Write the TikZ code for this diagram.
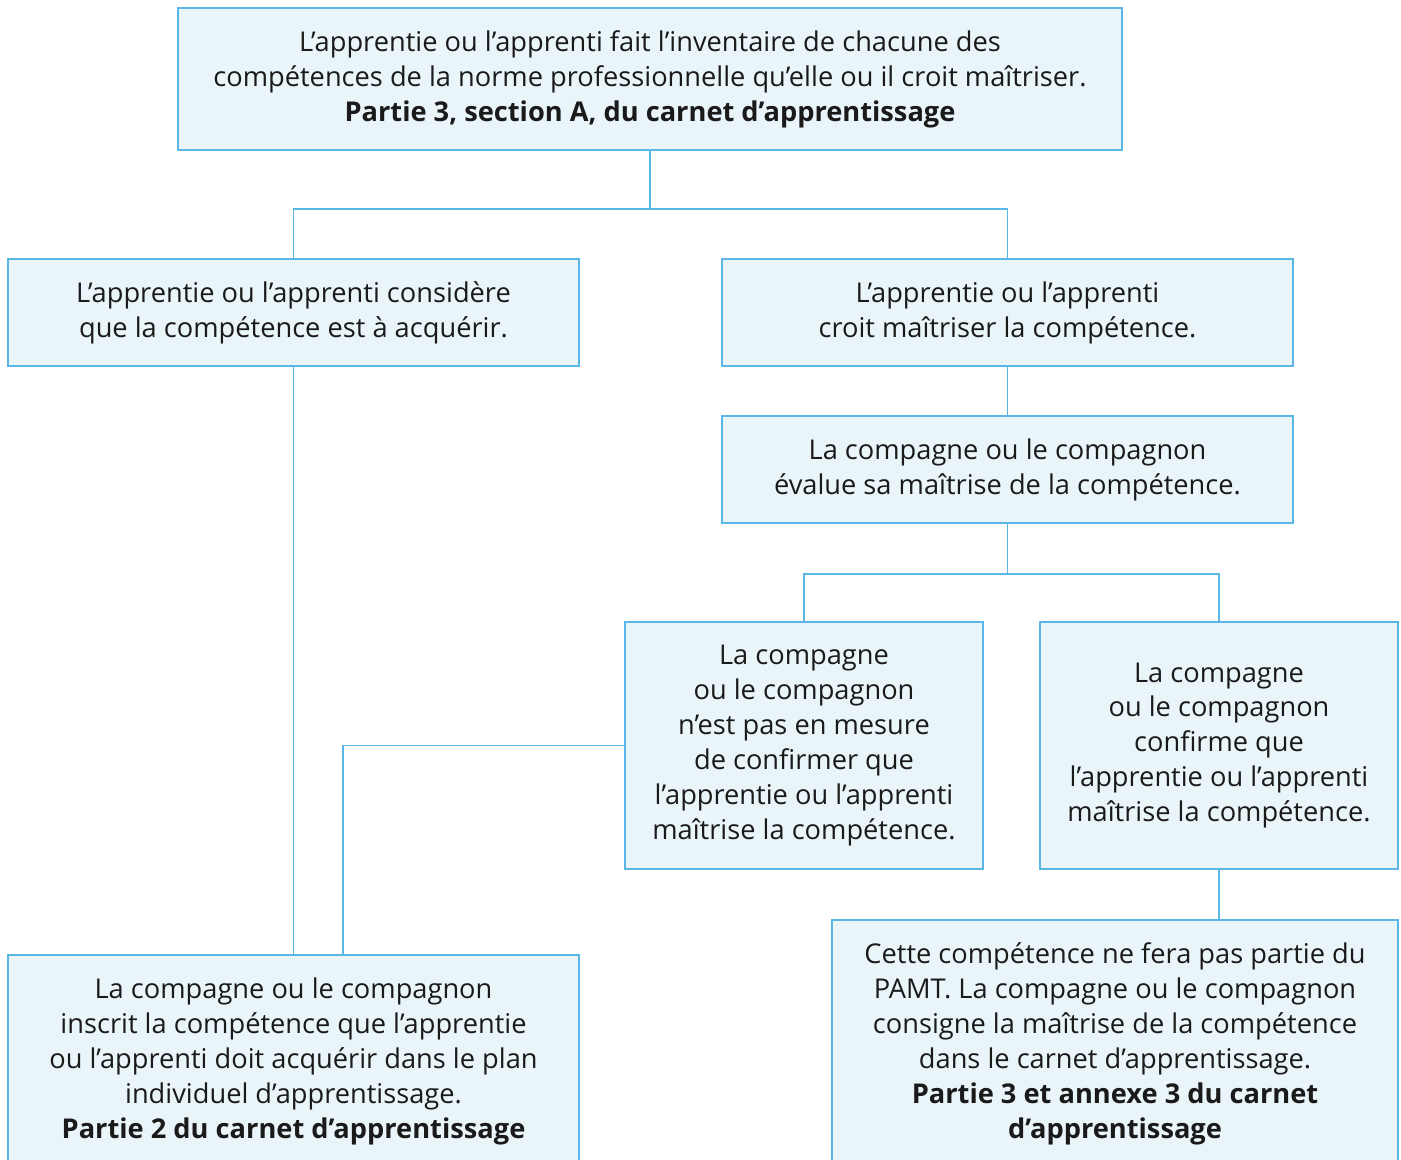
\documentclass[tikz,border=0pt]{standalone}
\usepackage{fontspec}
\setmainfont{Open Sans}
\definecolor{PamtBlue}{HTML}{5BB8E6}
\definecolor{PamtFill}{HTML}{EAF5FA}
\definecolor{PamtText}{HTML}{1A1A1A}
\usetikzlibrary{positioning,calc}
\tikzset{
    % Base box style
    basebox/.style={
        draw=PamtBlue,
        fill=PamtFill,
        line width=0.9pt,
        inner sep=0pt,
        align=center,
        text=PamtText,
        font=\fontsize{15.5pt}{19.9pt}\selectfont
    },
    % Wide box
    widebox/.style={
        basebox,
        minimum width=11.42cm,
        minimum height=2.14cm
    },
    % Narrow tall box
    tallbox/.style={
        basebox,
        minimum width=7.16cm,
        minimum height=4.94cm
    },
    % Connector
    link/.style={
        line width=0.9pt,
        draw=PamtBlue
    }
}
\begin{document}
\begin{tikzpicture}[x=0.02cm, y=-0.02cm]
        \useasboundingbox (0,0) rectangle (1401,1160);

        % Inventory
        \node[basebox, minimum width=18.88cm, minimum height=2.84cm] (inv) at (650,79) {L’apprentie ou l’apprenti fait l’inventaire de chacune des\\compétences de la norme professionnelle qu’elle ou il croit maîtriser.\\\textbf{Partie 3, section A, du carnet d’apprentissage}};

        % Two views of the apprentice
        \node[widebox] (acq) at (293.5,312.5) {L’apprentie ou l’apprenti considère\\que la compétence est à acquérir.};
        \node[widebox] (croit) at (1007.5,312.5) {L’apprentie ou l’apprenti\\croit maîtriser la compétence.};

        % Evaluation
        \node[widebox] (eval) at (1007.5,469.5) {La compagne ou le compagnon\\évalue sa maîtrise de la compétence.};

        % Outcomes
        \node[tallbox] (nonconf) at (804,745.5) {La compagne\\ou le compagnon\\n’est pas en mesure\\de confirmer que\\l’apprentie ou l’apprenti\\maîtrise la compétence.};
        \node[tallbox] (conf) at (1219,745.5) {La compagne\\ou le compagnon\\confirme que\\l’apprentie ou l’apprenti\\maîtrise la compétence.};

        % Final records
        \node[basebox, minimum width=11.42cm, minimum height=4.26cm] (plan) at (293.5,1061.5) {La compagne ou le compagnon\\inscrit la compétence que l’apprentie\\ou l’apprenti doit acquérir dans le plan\\individuel d’apprentissage.\\\textbf{Partie 2 du carnet d’apprentissage}};
        \node[basebox, minimum width=11.32cm, minimum height=4.96cm] (pamt) at (1115,1044) {Cette compétence ne fera pas partie du\\PAMT. La compagne ou le compagnon\\consigne la maîtrise de la compétence\\dans le carnet d’apprentissage.\\\textbf{Partie 3 et annexe 3 du carnet}\\\textbf{d’apprentissage}};

        % Connectors
        \coordinate (j1) at (650,209);
        \coordinate (j2) at (1007.5,574);
        \draw[link] (inv.south) -- (j1);
        \draw[link] (acq.north) |- (j1) -| (croit.north);
        \draw[link] (croit.south) -- (eval.north);
        \draw[link] (eval.south) -- (j2);
        \draw[link] (nonconf.north) |- (j2) -| (conf.north);
        \draw[link] (acq.south) -- (acq.south |- plan.north);
        \draw[link] (nonconf.west) -| ([xshift=0.99cm]plan.north);
        \draw[link] (conf.south) -- (conf.south |- pamt.north);
    \end{tikzpicture}
\end{document}
